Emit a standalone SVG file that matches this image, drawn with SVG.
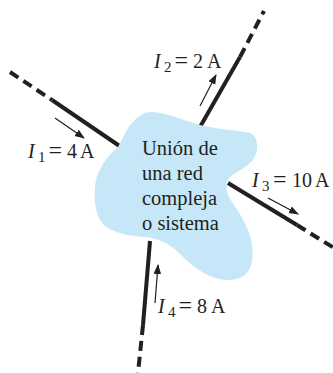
<svg xmlns="http://www.w3.org/2000/svg" width="333" height="373" viewBox="0 0 333 373">
<style>
.solid{stroke:#231f20;stroke-width:4;fill:none;stroke-linecap:butt}
.dash{stroke:#231f20;stroke-width:4;fill:none;stroke-dasharray:10,6}
.arr{stroke:#231f20;stroke-width:1.2;fill:none}
.lbl{font-family:"Liberation Serif","DejaVu Serif",serif;font-size:20px;fill:#231f20}
.sub{font-size:15px}
.it{font-style:italic}
.eq{font-size:24px}
.body{font-family:"Liberation Serif","DejaVu Serif",serif;font-size:20.5px;fill:#231f20}
</style>
<defs>
<marker id="ah" viewBox="0 0 10 10" refX="9" refY="5" markerWidth="10" markerHeight="10" markerUnits="userSpaceOnUse" orient="auto">
<path d="M0,1.2 L10,5 L0,8.8 Z" fill="#231f20"/>
</marker>
</defs>
<g id="connectors">
<line class="dash" x1="10" y1="72" x2="52" y2="100"/>
<line class="solid" x1="52" y1="100" x2="121" y2="147"/>
<line class="solid" x1="200" y1="127" x2="240" y2="57"/>
<line class="dash" x1="240" y1="57" x2="264" y2="11"/>
<line class="solid" x1="228" y1="183" x2="297" y2="225"/>
<line class="dash" x1="297" y1="225" x2="334" y2="248"/>
<line class="solid" x1="150" y1="241" x2="143" y2="325"/>
<line class="dash" x1="143" y1="325" x2="138" y2="373"/>
<line class="arr" x1="55" y1="118" x2="84" y2="138" marker-end="url(#ah)"/>
<line class="arr" x1="200" y1="106" x2="216" y2="75" marker-end="url(#ah)"/>
<line class="arr" x1="268" y1="198" x2="298" y2="214" marker-end="url(#ah)"/>
<line class="arr" x1="155" y1="303" x2="158" y2="265" marker-end="url(#ah)"/>
</g>
<g id="blob">
<path d="M118,147 C124,136 128,126 133,122 C139,115 145,112 152,112 C165,112 185,121 200,125 C215,129 235,130 250,133 C258,136 260,150 253,160 C246,168 236,172 230,177 C224,183 226,193 232,202 C240,214 248,226 251,240 C254,254 253,268 245,275 C236,282 222,281 210,276 C198,271 188,262 178,252 C168,243 158,238 145,237 C130,236 114,233 105,226 C95,217 94,200 95,187 C96,172 105,158 118,147 Z" fill="#c6e7f7"/>
<text class="body" x="142" y="155">Unión de</text>
<text class="body" x="142" y="180">una red</text>
<text class="body" x="142" y="205">compleja</text>
<text class="body" x="142" y="230">o sistema</text>
</g>
<g id="I1">
<text class="lbl" y="158"><tspan class="it" x="28">I</tspan><tspan class="sub" x="38" dy="4">1</tspan><tspan class="eq" x="48.5" dy="-4">=</tspan><tspan x="67">4</tspan><tspan x="80">A</tspan></text>
</g>
<g id="I2">
<text class="lbl" y="68"><tspan class="it" x="154">I</tspan><tspan class="sub" x="164" dy="4">2</tspan><tspan class="eq" x="174.5" dy="-4">=</tspan><tspan x="193">2</tspan><tspan x="207">A</tspan></text>
</g>
<g id="I3">
<text class="lbl" y="187"><tspan class="it" x="252">I</tspan><tspan class="sub" x="262" dy="4">3</tspan><tspan class="eq" x="273" dy="-4">=</tspan><tspan x="292">10</tspan><tspan x="315">A</tspan></text>
</g>
<g id="I4">
<text class="lbl" y="313"><tspan class="it" x="158">I</tspan><tspan class="sub" x="168" dy="4">4</tspan><tspan class="eq" x="178.5" dy="-4">=</tspan><tspan x="197">8</tspan><tspan x="211">A</tspan></text>
</g>
</svg>
